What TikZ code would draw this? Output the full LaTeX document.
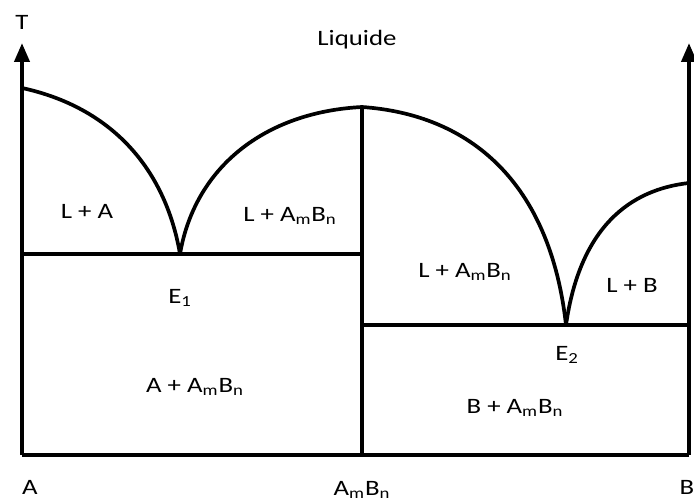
\documentclass[tikz,border=0pt]{standalone}
\usepackage{fontspec}
\setmainfont{Carlito}[FakeStretch=1.22]
\usepackage{tikz}
\usetikzlibrary{positioning, arrows.meta}

\begin{document}
\begin{tikzpicture}[
    font=\fontsize{12.5}{14}\selectfont,
    phase/.style={line width=2.1pt, line join=round},
    axis/.style={line width=2.3pt, -{Triangle[width=0.30cm, length=0.38cm]}},
    lbl/.style={inner sep=1pt},
]
\useasboundingbox (0,0) rectangle (13.88,10.04);

% Key points of the diagram
\coordinate (origin) at (0.44, 0.94);
\coordinate (tA) at (0.44, 9.18);
\coordinate (xB) at (13.78, 0.94);
\coordinate (tB) at (13.78, 9.18);
\coordinate (meltA) at (0.44, 8.28);
\coordinate (eut1) at (3.60, 4.96);
\coordinate (peak) at (7.24, 7.90);
\coordinate (eut2) at (11.32, 3.54);
\coordinate (meltB) at (13.78, 6.38);
\coordinate (solid1) at (0.44, 4.96);
\coordinate (split1) at (7.24, 4.96);
\coordinate (split2) at (7.24, 3.54);
\coordinate (solid2) at (13.78, 3.54);
\coordinate (foot) at (7.24, 0.94);

% Axes
\draw[axis] (origin) -- (tA);
\draw[axis] (xB) -- (tB);
\draw[phase] (origin) -- (xB);

% Liquidus curves
\draw[phase] (meltA) .. controls (2.2, 7.9) and (3.3, 6.7) .. (eut1);
\draw[phase] (eut1) .. controls (3.9, 6.7) and (5.3, 7.8) .. (peak);
\draw[phase] (peak) .. controls (9.4, 7.75) and (11.0, 6.4) .. (eut2);
\draw[phase] (eut2) .. controls (11.6, 5.5) and (12.6, 6.25) .. (meltB);

% Eutectic lines and compound
\draw[phase] (solid1) -- (split1);
\draw[phase] (split2) -- (solid2);
\draw[phase] (peak) -- (foot);

% Labels
\node[lbl] (tlab) at (0.44, 9.60) {T};
\node[lbl] (liq) at (7.14, 9.24) {Liquide};
\node[lbl] (la) at (1.74, 5.82) {L + A};
\node[lbl] (lab1) at (5.80, 5.72) {L + A\textsubscript{m}B\textsubscript{n}};
\node[lbl] (e1lab) at (3.60, 4.08) {E\textsubscript{1}};
\node[lbl] (aab) at (3.90, 2.30) {A + A\textsubscript{m}B\textsubscript{n}};
\node[lbl] (lab2) at (9.30, 4.60) {L + A\textsubscript{m}B\textsubscript{n}};
\node[lbl] (lb) at (12.64, 4.34) {L + B};
\node[lbl] (e2lab) at (11.34, 2.94) {E\textsubscript{2}};
\node[lbl] (bab) at (10.30, 1.88) {B + A\textsubscript{m}B\textsubscript{n}};
\node[lbl] (alab) at (0.60, 0.30) {A};
\node[lbl] (ablab) at (7.24, 0.24) {A\textsubscript{m}B\textsubscript{n}};
\node[lbl] (blab) at (13.74, 0.30) {B};

\end{tikzpicture}
\end{document}
